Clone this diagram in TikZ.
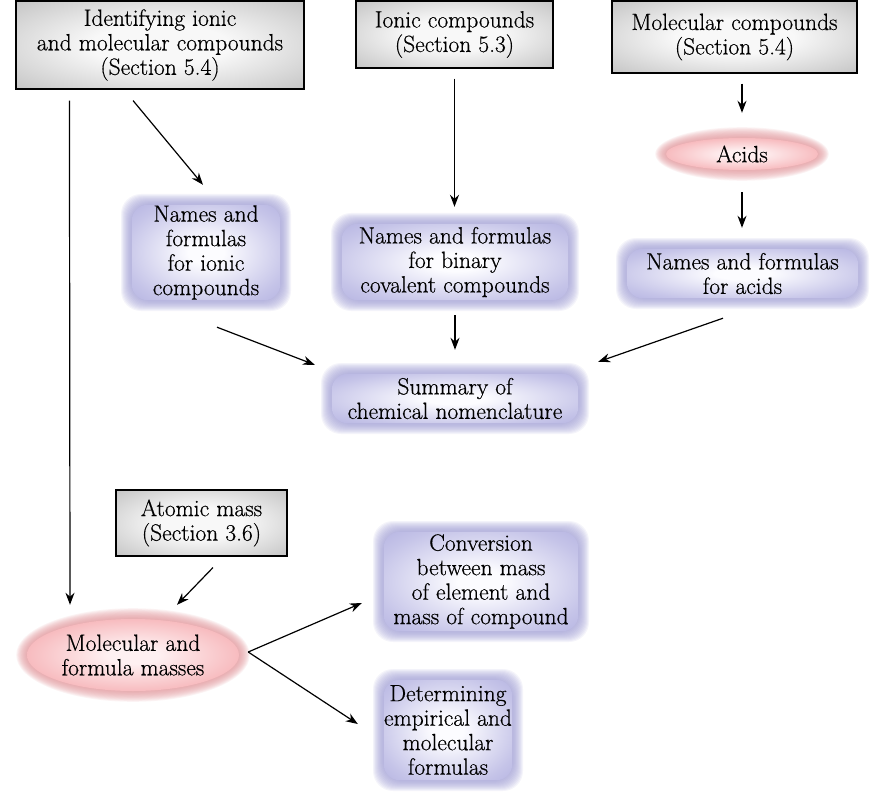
\documentclass[tikz,border=0pt]{standalone}
\usepackage{fontspec}
\setmainfont{Latin Modern Roman}[FakeBold=0.5]
\usetikzlibrary{arrows.meta,backgrounds,shapes.geometric}
\definecolor{lav}{RGB}{168,166,220}
\definecolor{lavc}{RGB}{252,252,255}
\colorlet{lavmid}{lav!65!lavc}
\definecolor{laved}{RGB}{160,158,212}
\definecolor{pinkc}{RGB}{241,138,144}
\definecolor{pinkm}{RGB}{254,240,241}
\colorlet{pinkmid}{pinkc!65!pinkm}
\definecolor{pinked}{RGB}{225,150,155}
\definecolor{gc}{RGB}{248,248,248}
\definecolor{ge}{RGB}{165,165,165}
\pgfdeclareradialshading{lavshade}{\pgfpointorigin}{color(0bp)=(lavc); color(6bp)=(lavc); color(28bp)=(lavmid); color(44bp)=(lav); color(75bp)=(lav)}
\pgfdeclareradialshading{pinkshade}{\pgfpointorigin}{color(0bp)=(pinkm); color(6bp)=(pinkm); color(30bp)=(pinkmid); color(46bp)=(pinkc); color(75bp)=(pinkc)}
\pgfdeclareradialshading{grayshade}{\pgfpointorigin}{color(0bp)=(gc); color(12bp)=(gc); color(50bp)=(ge); color(75bp)=(ge)}
\tikzset{
  txt/.style={font=\fontsize{23.5}{24.5}\selectfont, align=center, inner sep=0pt},
  graybox/.style={txt, draw=black, line width=1.1pt, shading=grayshade},
  softbox/.style={txt},
  oval/.style={txt, ellipse},
  arr/.style={line width=1.2pt, -{Stealth[length=12pt,width=9pt]}},
}
\begin{document}
\begin{tikzpicture}[x=1pt,y=-1pt]
\useasboundingbox (0,0) rectangle (885,802);
% gray boxes
\node[graybox, minimum width=288pt, minimum height=88pt] (A) at (160,45) {Identifying ionic\\and molecular compounds\\(Section 5.4)};
\node[graybox, minimum width=197pt, minimum height=67pt] (B) at (454.5,34.5) {Ionic compounds\\(Section 5.3)};
\node[graybox, minimum width=245pt, minimum height=72pt] (C) at (734.5,37) {Molecular compounds\\(Section 5.4)};
\node[graybox, minimum width=171pt, minimum height=66pt] (atm) at (201.5,523) {Atomic mass\\(Section 3.6)};
% soft boxes
\node[softbox, minimum width=156pt, minimum height=103pt] (ionic) at (206,252.5) {Names and\\formulas\\for ionic\\compounds};
\node[softbox, minimum width=234pt, minimum height=84pt] (binary) at (455,262) {Names and formulas\\for binary\\covalent compounds};
\node[softbox, minimum width=239pt, minimum height=57pt] (acidn) at (742.5,273.5) {Names and formulas\\for acids};
\node[softbox, minimum width=254pt, minimum height=57pt] (summ) at (455,398.5) {Summary of\\chemical nomenclature};
\node[softbox, minimum width=202pt, minimum height=107pt] (conv) at (481,581.5) {Conversion\\between mass\\of element and\\mass of compound};
\node[softbox, minimum width=136pt, minimum height=108pt] (det) at (448,730) {Determining\\empirical and\\molecular\\formulas};
% ovals
\node[oval, minimum width=160pt, minimum height=40pt] (acids) at (742,154) {Acids};
\node[oval, minimum width=220pt, minimum height=80pt] (mol) at (133,655) {Molecular and\\formula masses};
\begin{scope}[on background layer]
  \foreach \n in {ionic,binary,acidn,summ,conv,det}{
    \foreach \k in {0,...,12}{
      \fill[laved, opacity=0.11, rounded corners=20pt]
        ([shift={(-\k*0.9pt+4pt,-\k*0.9pt+4pt)}]\n.south west) rectangle ([shift={(\k*0.9pt-4pt,\k*0.9pt-4pt)}]\n.north east);
    }
    \shade[shading=lavshade, rounded corners=16pt] ([shift={(4pt,4pt)}]\n.south west) rectangle ([shift={(-4pt,-4pt)}]\n.north east);
  }
  \foreach \n/\rx/\ry in {acids/80/20, mol/110/40}{
    \foreach \k in {0,...,12}{
      \fill[pinked, opacity=0.11] (\n.center) ellipse [x radius=\rx+\k*0.9-4, y radius=\ry+\k*0.9-4];
    }
    \shade[shading=pinkshade] (\n.center) ellipse [x radius=\rx-4, y radius=\ry-4];
  }
\end{scope}
% connectors
\draw[arr] ([xshift=54pt,yshift=-11pt]A.south west) -- ([xshift=-63pt,yshift=10pt]mol.north);
\draw[arr] ([xshift=-27pt,yshift=-11pt]A.south) -- ([xshift=-3pt,yshift=16pt]ionic.north);
\draw[arr, shorten <=10pt, shorten >=13pt] (B.south) -- (B.south |- binary.north);
\draw[arr, shorten <=10pt, shorten >=21pt] (C.south -| acids.north) -- (acids.north);
\draw[arr, shorten <=18pt, shorten >=17pt] (acids.south) -- (acids.south |- acidn.north);
\draw[arr, shorten <=11pt, shorten >=20pt] (binary.south) -- (binary.south |- summ.north);
\draw[arr] ([xshift=11pt,yshift=-23pt]ionic.south) -- ([xshift=-13pt,yshift=5pt]summ.north west);
\draw[arr] ([xshift=-19.5pt,yshift=-16pt]acidn.south) -- ([xshift=16pt,yshift=8pt]summ.north east);
\draw[arr] ([xshift=11.5pt,yshift=-11pt]atm.south) -- ([xshift=44pt,yshift=10pt]mol.north);
\draw[arr] ([xshift=5pt,yshift=3pt]mol.east) -- ([xshift=-18pt,yshift=-21.5pt]conv.west);
\draw[arr] ([xshift=5pt,yshift=3pt]mol.east) -- ([xshift=-22pt,yshift=6pt]det.west);
\end{tikzpicture}
\end{document}
